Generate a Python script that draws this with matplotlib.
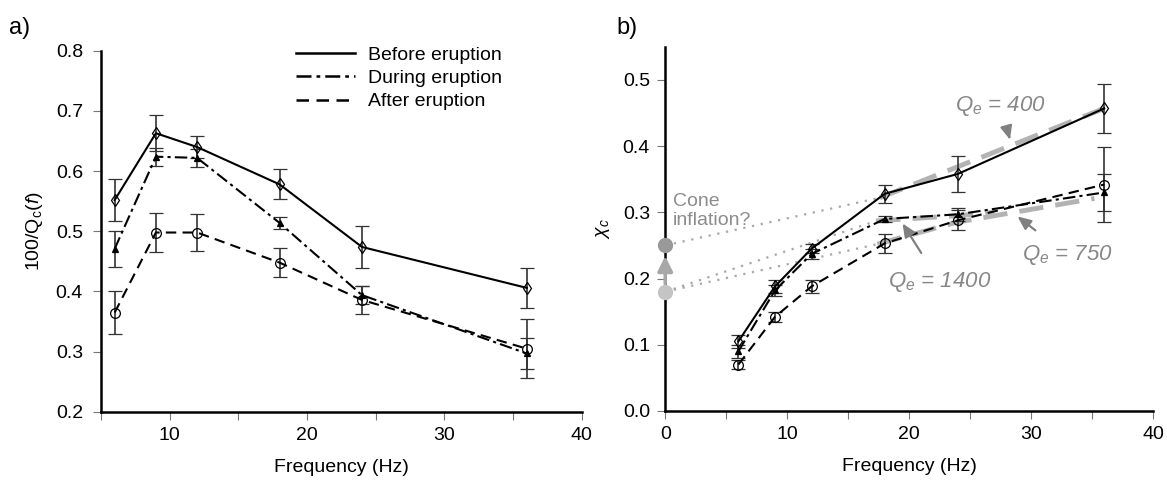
import numpy as np
import matplotlib
matplotlib.use("Agg")
import matplotlib.pyplot as plt
from matplotlib.lines import Line2D
from matplotlib.ticker import MultipleLocator, FormatStrFormatter

plt.rcParams["font.family"] = ["Liberation Sans", "DejaVu Sans"]
plt.rcParams["mathtext.fontset"] = "custom"
plt.rcParams["mathtext.rm"] = "Liberation Sans"
plt.rcParams["mathtext.it"] = "Liberation Sans:italic"

freq = [6, 9, 12, 18, 24, 36]

# panel a: 100/Qc(f)
qa_before = [0.552, 0.663, 0.640, 0.578, 0.474, 0.406]
qa_before_err = [0.035, 0.030, 0.018, 0.025, 0.035, 0.033]
qa_during = [0.471, 0.624, 0.622, 0.514, 0.394, 0.297]
qa_during_err = [0.030, 0.015, 0.015, 0.010, 0.015, 0.025]
qa_after = [0.365, 0.498, 0.498, 0.448, 0.386, 0.305]
qa_after_err = [0.035, 0.032, 0.030, 0.024, 0.023, 0.049]

# panel b: chi_c
xb_before = [0.105, 0.188, 0.245, 0.328, 0.358, 0.457]
xb_before_err = [0.010, 0.010, 0.007, 0.014, 0.027, 0.037]
xb_during = [0.090, 0.182, 0.237, 0.290, 0.297, 0.330]
xb_during_err = [0.010, 0.008, 0.007, 0.005, 0.010, 0.028]
xb_after = [0.070, 0.142, 0.188, 0.253, 0.288, 0.342]
xb_after_err = [0.007, 0.007, 0.010, 0.014, 0.015, 0.056]

# model fits (grey dashed) and their extrapolations to f = 0 (dotted)
fit400_f = [17.6, 36.0]
fit400_x = [0.322, 0.457]
fit1400_f = [17.3, 24.0, 27.0]
fit1400_x = [0.287, 0.295, 0.300]
fit750_f = [17.4, 23.9, 35.2]
fit750_x = [0.252, 0.285, 0.321]
intercept_hi = 0.25
intercept_lo = 0.18

labels = ["Before eruption", "During eruption", "After eruption"]
styles = ["-", (0, (6, 2, 1.5, 2)), (0, (5, 3))]
markers = ["d", "^", "o"]
msizes = [6, 5, 7]

fig = plt.figure(figsize=(11.67, 4.88), dpi=100)
ax1 = fig.add_axes([0.0865, 0.156, 0.412, 0.740])
ax2 = fig.add_axes([0.570, 0.158, 0.418, 0.746])


def style_axis(ax):
    for s in ["top", "right"]:
        ax.spines[s].set_visible(False)
    for s in ["left", "bottom"]:
        ax.spines[s].set_linewidth(1.8)
    ax.tick_params(axis="both", labelsize=14, length=6, width=0.8,
                   color="#777777", pad=5)
    ax.xaxis.set_major_locator(MultipleLocator(10))
    ax.xaxis.set_minor_locator(MultipleLocator(5))
    ax.tick_params(axis="x", which="minor", length=6, width=0.8, color="#777777")
    ax.set_xlabel("Frequency (Hz)", fontsize=14, labelpad=11)


def draw_series(ax, ys, errs):
    for y, e, ls, m, ms, lab in zip(ys, errs, styles, markers, msizes, labels):
        ax.errorbar(freq, y, yerr=e, color="black", ls=ls, lw=1.5,
                    marker=m, ms=ms, mfc="none" if m != "^" else "black",
                    mew=0.9, ecolor="#333333", elinewidth=1.2, capsize=5,
                    capthick=1.2, label=lab)


# ---- panel a ----
draw_series(ax1, [qa_before, qa_during, qa_after],
            [qa_before_err, qa_during_err, qa_after_err])
ax1.set_xlim(5, 40)
ax1.set_ylim(0.2, 0.8)
ax1.yaxis.set_major_locator(MultipleLocator(0.1))
style_axis(ax1)
ax1.tick_params(axis="y", pad=7)
ax1.set_ylabel(r"100/Q$_{\rm c}$($\it{f}$)", fontsize=14, labelpad=8)
handles = [Line2D([], [], color="black", ls=ls, lw=1.8) for ls in styles]
ax1.legend(handles, labels, loc="upper left", bbox_to_anchor=(0.37, 1.06),
           frameon=False, fontsize=14, handlelength=3.0, labelspacing=0.28,
           handletextpad=0.7)
fig.text(0.008, 0.93, "a)", fontsize=17)

# ---- panel b ----
fit_kw = dict(color="#b3b3b3", lw=3.5, ls=(0, (5, 2.5)), zorder=1)
ax2.plot(fit400_f, fit400_x, **fit_kw)
ax2.plot(fit1400_f, fit1400_x, **fit_kw)
ax2.plot(fit750_f, fit750_x, **fit_kw)
dot_kw = dict(color="#a8a8a8", ls=(0, (1, 3)), lw=1.6, zorder=1)
ax2.plot([0, fit400_f[0]], [intercept_hi, fit400_x[0]], **dot_kw)
ax2.plot([0, fit1400_f[0]], [intercept_lo, fit1400_x[0]], **dot_kw)
ax2.plot([0, fit750_f[0]], [intercept_lo, fit750_x[0]], **dot_kw)

draw_series(ax2, [xb_before, xb_during, xb_after],
            [xb_before_err, xb_during_err, xb_after_err])

ax2.annotate("", xy=(0, 0.238), xytext=(0, intercept_lo + 0.008),
             arrowprops=dict(arrowstyle="-|>,head_width=0.45,head_length=0.9",
                             color="#a8a8a8", lw=2.5), zorder=4)
ax2.plot([0], [intercept_hi], "o", ms=10, color="#999999", clip_on=False, zorder=5)
ax2.plot([0], [intercept_lo], "o", ms=10, color="#c4c4c4", clip_on=False, zorder=5)
ax2.text(0.6, 0.302, "Cone\ninflation?", fontsize=14, color="#8c8c8c",
         ha="left", va="center", linespacing=1.15)

arrow_kw = dict(arrowstyle="-|>,head_width=0.22,head_length=0.5",
                color="#808080", lw=1.6)
ax2.annotate(r"$Q_e$ = 400", xy=(28.3, 0.408), xytext=(27.5, 0.461),
             fontsize=16, color="#888888", style="italic", ha="center",
             va="center", arrowprops=dict(arrow_kw, shrinkA=12, shrinkB=1))
ax2.annotate(r"$Q_e$ = 1400", xy=(19.4, 0.285), xytext=(22.5, 0.195),
             fontsize=16, color="#888888", style="italic", ha="center",
             va="center", arrowprops=dict(arrow_kw, shrinkA=12, shrinkB=1))
ax2.annotate(r"$Q_e$ = 750", xy=(28.8, 0.295), xytext=(33.0, 0.235),
             fontsize=16, color="#888888", style="italic", ha="center",
             va="center", arrowprops=dict(arrow_kw, shrinkA=12, shrinkB=1))

ax2.set_xlim(0, 40)
ax2.set_ylim(0, 0.55)
ax2.yaxis.set_major_locator(MultipleLocator(0.1))
ax2.yaxis.set_major_formatter(FormatStrFormatter("%.1f"))
style_axis(ax2)
ax2.set_ylabel(r"$\chi_c$", fontsize=14, labelpad=8)
fig.text(0.528, 0.93, "b)", fontsize=17)

fig.savefig("out.png", dpi=100)
